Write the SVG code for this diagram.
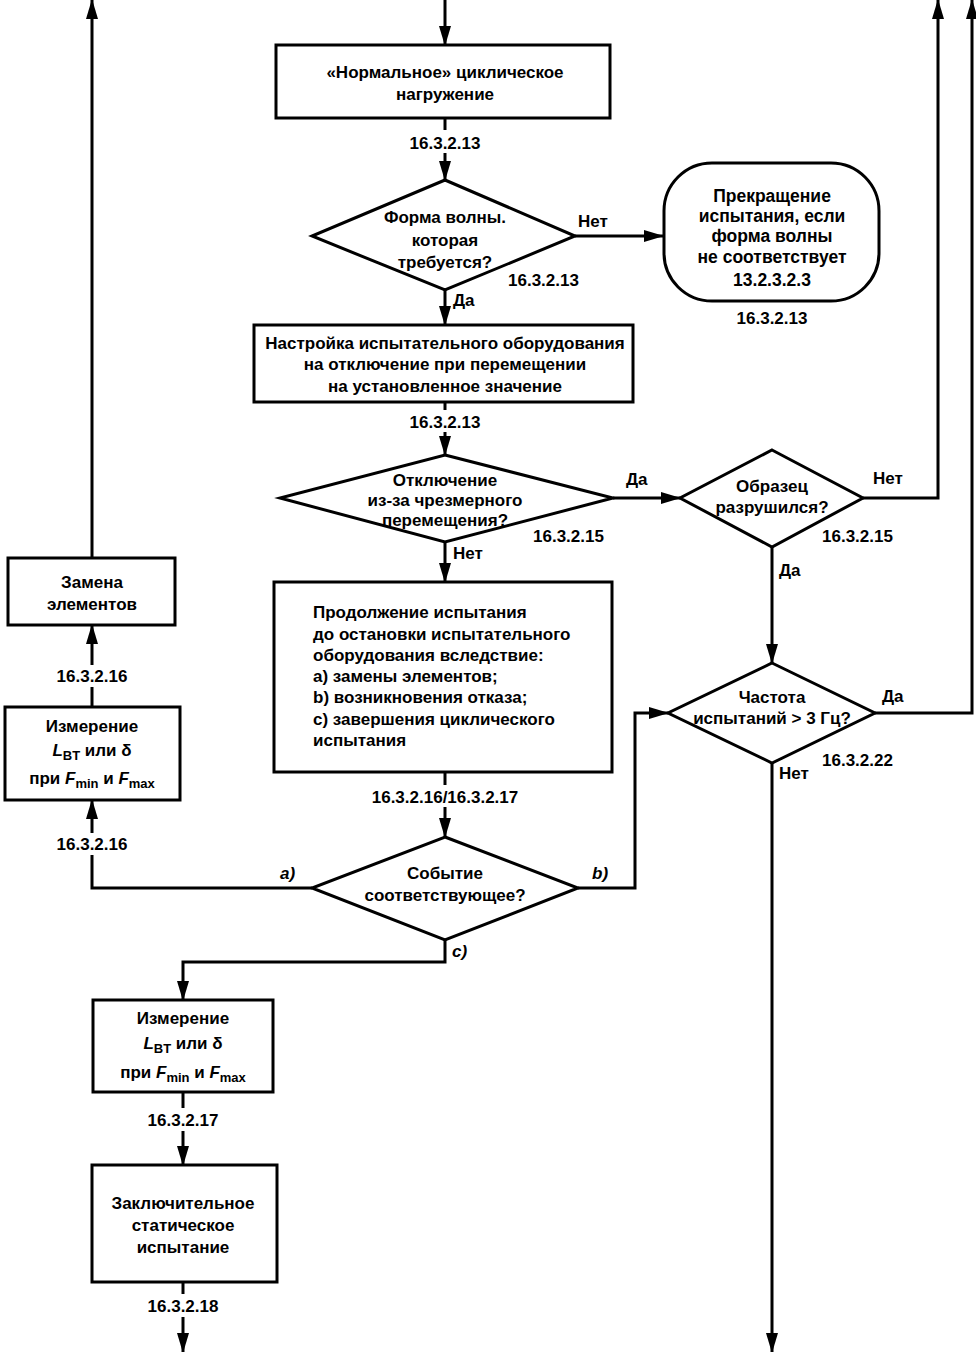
<svg xmlns="http://www.w3.org/2000/svg" width="976" height="1352" viewBox="0 0 976 1352">
<style>
.n{fill:#fff;stroke:#000;stroke-width:3}
.c{fill:none;stroke:#000;stroke-width:3}
text{font-family:"Liberation Sans",Arial,sans-serif;font-size:17px;font-weight:bold;fill:#000}
.m{text-anchor:middle}
.i{font-style:italic}
.s{font-size:13px}
.t{font-size:17.5px}
</style>
<defs>
<marker id="a" markerUnits="userSpaceOnUse" markerWidth="20" markerHeight="12" refX="19" refY="6" orient="auto">
<path d="M0,0 L20,6 L0,12 z" fill="#000"/>
</marker>
</defs>
<g id="connectors">
<line class="c" x1="445" y1="0" x2="445" y2="45" marker-end="url(#a)"/>
<line class="c" x1="445" y1="118" x2="445" y2="130"/>
<line class="c" x1="445" y1="153" x2="445" y2="180" marker-end="url(#a)"/>
<line class="c" x1="445" y1="290" x2="445" y2="325" marker-end="url(#a)"/>
<line class="c" x1="575" y1="236" x2="663" y2="236" marker-end="url(#a)"/>
<line class="c" x1="445" y1="402" x2="445" y2="410"/>
<line class="c" x1="445" y1="432" x2="445" y2="455" marker-end="url(#a)"/>
<line class="c" x1="445" y1="542" x2="445" y2="582" marker-end="url(#a)"/>
<line class="c" x1="613" y1="498" x2="680" y2="498" marker-end="url(#a)"/>
<polyline class="c" points="863,498 938,498 938,0" marker-end="url(#a)"/>
<line class="c" x1="772" y1="547" x2="772" y2="663" marker-end="url(#a)"/>
<polyline class="c" points="875,713 972,713 972,0" marker-end="url(#a)"/>
<line class="c" x1="772" y1="763" x2="772" y2="1352" marker-end="url(#a)"/>
<line class="c" x1="445" y1="772" x2="445" y2="785"/>
<line class="c" x1="445" y1="807" x2="445" y2="837" marker-end="url(#a)"/>
<polyline class="c" points="578,888 635,888 635,713 668,713" marker-end="url(#a)"/>
<polyline class="c" points="312,888 92,888 92,855"/>
<line class="c" x1="92" y1="833" x2="92" y2="800" marker-end="url(#a)"/>
<line class="c" x1="92" y1="707" x2="92" y2="687"/>
<line class="c" x1="92" y1="665" x2="92" y2="625" marker-end="url(#a)"/>
<line class="c" x1="92" y1="558" x2="92" y2="0" marker-end="url(#a)"/>
<polyline class="c" points="445,940 445,962 183,962 183,1000" marker-end="url(#a)"/>
<line class="c" x1="183" y1="1092" x2="183" y2="1108"/>
<line class="c" x1="183" y1="1131" x2="183" y2="1165" marker-end="url(#a)"/>
<line class="c" x1="183" y1="1282" x2="183" y2="1294"/>
<line class="c" x1="183" y1="1317" x2="183" y2="1352" marker-end="url(#a)"/>
</g>
<g id="labels">
<text class="m" x="445" y="149">16.3.2.13</text>
<text x="508" y="286">16.3.2.13</text>
<text x="578" y="227">Нет</text>
<text x="453" y="306">Да</text>
<text class="m" x="772" y="324">16.3.2.13</text>
<text class="m" x="445" y="428">16.3.2.13</text>
<text x="533" y="542">16.3.2.15</text>
<text x="626" y="485">Да</text>
<text x="453" y="559">Нет</text>
<text x="822" y="542">16.3.2.15</text>
<text x="873" y="484">Нет</text>
<text x="779" y="576">Да</text>
<text x="882" y="702">Да</text>
<text x="822" y="766">16.3.2.22</text>
<text x="779" y="779">Нет</text>
<text class="m" x="445" y="803">16.3.2.16/16.3.2.17</text>
<text class="i" x="280" y="879">a)</text>
<text class="i" x="592" y="879">b)</text>
<text class="i" x="452" y="957">c)</text>
<text class="m" x="92" y="850">16.3.2.16</text>
<text class="m" x="92" y="682">16.3.2.16</text>
<text class="m" x="183" y="1126">16.3.2.17</text>
<text class="m" x="183" y="1312">16.3.2.18</text>
</g>
<g id="n1">
<rect class="n" x="276" y="45" width="334" height="73"/>
<text class="m" x="445" y="78">«Нормальное» циклическое</text>
<text class="m" x="445" y="100">нагружение</text>
</g>
<g id="d1">
<polygon class="n" points="445,180 575,236 445,290 312,236"/>
<text class="m" x="445" y="223">Форма волны.</text>
<text class="m" x="445" y="246">которая</text>
<text class="m" x="445" y="268">требуется?</text>
</g>
<g id="t1">
<rect class="n" x="664" y="163" width="215" height="138" rx="48" ry="48"/>
<text class="m t" x="772" y="202">Прекращение</text>
<text class="m t" x="772" y="222">испытания, если</text>
<text class="m t" x="772" y="242">форма волны</text>
<text class="m t" x="772" y="263">не соответствует</text>
<text class="m t" x="772" y="286">13.2.3.2.3</text>
</g>
<g id="n2">
<rect class="n" x="254" y="325" width="379" height="77"/>
<text class="m" x="445" y="349">Настройка испытательного оборудования</text>
<text class="m" x="445" y="370">на отключение при перемещении</text>
<text class="m" x="445" y="392">на установленное значение</text>
</g>
<g id="d2">
<polygon class="n" points="445,455 613,498 445,542 280,498"/>
<text class="m" x="445" y="486">Отключение</text>
<text class="m" x="445" y="506">из-за чрезмерного</text>
<text class="m" x="445" y="526">перемещения?</text>
</g>
<g id="d3">
<polygon class="n" points="772,450 863,498 772,547 680,498"/>
<text class="m" x="772" y="492">Образец</text>
<text class="m" x="772" y="513">разрушился?</text>
</g>
<g id="d4">
<polygon class="n" points="772,663 875,713 772,763 668,713"/>
<text class="m" x="772" y="703">Частота</text>
<text class="m" x="772" y="724">испытаний &gt; 3 Гц?</text>
</g>
<g id="n3">
<rect class="n" x="274" y="582" width="338" height="190"/>
<text x="313" y="618">Продолжение испытания</text>
<text x="313" y="640">до остановки испытательного</text>
<text x="313" y="661">оборудования вследствие:</text>
<text x="313" y="682">a) замены элементов;</text>
<text x="313" y="703">b) возникновения отказа;</text>
<text x="313" y="725">c) завершения циклического</text>
<text x="313" y="746">испытания</text>
</g>
<g id="d5">
<polygon class="n" points="445,837 578,888 445,940 312,888"/>
<text class="m" x="445" y="879">Событие</text>
<text class="m" x="445" y="901">соответствующее?</text>
</g>
<g id="n4">
<rect class="n" x="8" y="558" width="167" height="67"/>
<text class="m" x="92" y="588">Замена</text>
<text class="m" x="92" y="610">элементов</text>
</g>
<g id="n5">
<rect class="n" x="5" y="707" width="175" height="93"/>
<text class="m" x="92" y="732">Измерение</text>
<text class="m" x="92" y="756"><tspan class="i">L</tspan><tspan class="s" dy="4">BT</tspan><tspan dy="-4"> или δ</tspan></text>
<text class="m" x="92" y="784">при <tspan class="i">F</tspan><tspan class="s" dy="4">min</tspan><tspan dy="-4"> и </tspan><tspan class="i">F</tspan><tspan class="s" dy="4">max</tspan></text>
</g>
<g id="n6">
<rect class="n" x="93" y="1000" width="180" height="92"/>
<text class="m" x="183" y="1024">Измерение</text>
<text class="m" x="183" y="1049"><tspan class="i">L</tspan><tspan class="s" dy="4">BT</tspan><tspan dy="-4"> или δ</tspan></text>
<text class="m" x="183" y="1078">при <tspan class="i">F</tspan><tspan class="s" dy="4">min</tspan><tspan dy="-4"> и </tspan><tspan class="i">F</tspan><tspan class="s" dy="4">max</tspan></text>
</g>
<g id="n7">
<rect class="n" x="92" y="1165" width="185" height="117"/>
<text class="m" x="183" y="1209">Заключительное</text>
<text class="m" x="183" y="1231">статическое</text>
<text class="m" x="183" y="1253">испытание</text>
</g>
</svg>
